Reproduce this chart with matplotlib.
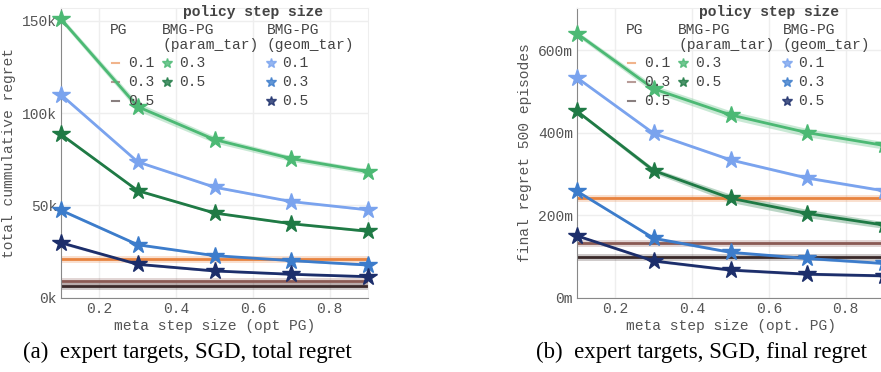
import matplotlib
matplotlib.use("Agg")
import matplotlib.pyplot as plt
import numpy as np

meta_step = [0.1, 0.3, 0.5, 0.7, 0.9]

# (a) total cumulative regret, in thousands
tot_param_03 = [151, 103.5, 85.7, 75.4, 68.3]
tot_param_05 = [88.5, 58.0, 45.9, 40.1, 36.0]
tot_geom_01 = [110, 73.6, 59.9, 52.1, 47.6]
tot_geom_03 = [47.4, 28.7, 22.8, 20.1, 17.7]
tot_geom_05 = [29.8, 18.1, 14.5, 12.7, 11.4]
tot_pg = [20.8, 9.2, 6.5]  # PG step 0.1, 0.3, 0.5
# band half-widths
tot_band_param_03 = [1.5, 2.2, 1.8, 1.5, 1.4]
tot_band_other = [0.8, 0.6, 0.5, 0.5, 0.5]

# (b) final regret after 500 episodes, in milli-units
fin_param_03 = [640, 506, 443, 400, 369]
fin_param_05 = [452, 308, 241, 204, 176]
fin_geom_01 = [533, 398, 334, 290, 259]
fin_geom_03 = [258, 144, 110, 95, 83]
fin_geom_05 = [150, 89, 67, 57, 53]
fin_pg = [242, 133, 98]
fin_band_param_03 = [6, 9, 10, 10, 9]
fin_band_param_05 = [4, 6, 10, 10, 8]
fin_band_other = [3, 3, 3, 3, 3]

c_param03 = "#4cb974"
c_param05 = "#1f7a45"
c_geom01 = "#7aa3ee"
c_geom03 = "#3c7ccb"
c_geom05 = "#1c2e6b"
c_pg = ["#e8833f", "#8a5a54", "#3b2a2a"]

mono = "Liberation Mono"
grey = "#555555"

fig = plt.figure(figsize=(8.81, 3.72), dpi=100)
ax1 = fig.add_axes([61 / 881, 74.3 / 372, 307 / 881, 289.7 / 372])
ax2 = fig.add_axes([577 / 881, 74.3 / 372, 307 / 881, 289.7 / 372])


def draw(ax, series, pg):
    for vals, band, col in series:
        v = np.array(vals)
        b = np.array(band)
        ax.fill_between(meta_step, v - b, v + b, color=col, alpha=0.3, lw=0, zorder=2)
        ax.plot(meta_step, v, color=col, lw=2, marker="*", ms=13, zorder=3,
                clip_on=False)
    for val, col in zip(pg, c_pg):
        ax.axhline(val, color=col, lw=5, alpha=0.25, zorder=2)
        ax.axhline(val, color=col, lw=2, zorder=2)


def style(ax, ticks, fmt, xlabel, ylabel, ylim):
    ax.set_xlim(0.1, 0.9)
    ax.set_ylim(*ylim)
    ax.set_xticks([0.2, 0.4, 0.6, 0.8])
    ax.set_xticklabels(["0.2", "0.4", "0.6", "0.8"])
    ax.set_yticks(ticks)
    ax.set_yticklabels([fmt % t for t in ticks])
    ax.grid(True, color="#eeeeee", lw=1, zorder=0)
    ax.set_axisbelow(True)
    for s in ["top", "right"]:
        ax.spines[s].set_color("#eeeeee")
    for s in ["left", "bottom"]:
        ax.spines[s].set_color("#888888")
    ax.tick_params(length=0, labelsize=10.5, colors=grey, pad=3)
    for lab in ax.get_xticklabels() + ax.get_yticklabels():
        lab.set_family(mono)
    ax.set_xlabel(xlabel, family=mono, fontsize=10.5, color=grey, labelpad=2)
    ax.set_ylabel(ylabel, family=mono, fontsize=10.5, color=grey, labelpad=4)


def legend(ax):
    tr = ax.transAxes
    kw = dict(family=mono, fontsize=10.5, color="#444444", transform=tr, va="center")
    ax.text(0.625, 0.985, "policy step size", fontweight="bold", ha="center", **kw)
    ax.text(0.16, 0.925, "PG", **kw)
    ax.text(0.33, 0.925, "BMG-PG", **kw)
    ax.text(0.33, 0.872, "(param_tar)", **kw)
    ax.text(0.67, 0.925, "BMG-PG", **kw)
    ax.text(0.67, 0.872, "(geom_tar)", **kw)
    rows = [0.81, 0.745, 0.68]
    for y, lab, col in zip(rows, ["0.1", "0.3", "0.5"], c_pg):
        ax.plot([0.165, 0.19], [y, y], color=col, lw=1.5, alpha=0.6,
                transform=tr, clip_on=False)
        ax.text(0.218, y, lab, **kw)
    for y, lab, col in zip(rows[:2], ["0.3", "0.5"], [c_param03, c_param05]):
        ax.plot([0.345], [y], marker="*", ms=7, color=col, alpha=0.8,
                transform=tr, clip_on=False, ls="none")
        ax.text(0.385, y, lab, **kw)
    for y, lab, col in zip(rows, ["0.1", "0.3", "0.5"], [c_geom01, c_geom03, c_geom05]):
        ax.plot([0.685], [y], marker="*", ms=7, color=col, alpha=0.8,
                transform=tr, clip_on=False, ls="none")
        ax.text(0.72, y, lab, **kw)


draw(ax1, [(tot_param_03, tot_band_param_03, c_param03),
           (tot_geom_01, tot_band_other, c_geom01),
           (tot_param_05, tot_band_other, c_param05),
           (tot_geom_03, tot_band_other, c_geom03),
           (tot_geom_05, tot_band_other, c_geom05)], tot_pg)
style(ax1, [0, 50, 100, 150], "%dk", "meta step size (opt PG)",
      "total cummulative regret", (0, 157))
legend(ax1)

draw(ax2, [(fin_param_03, fin_band_param_03, c_param03),
           (fin_geom_01, fin_band_other, c_geom01),
           (fin_param_05, fin_band_param_05, c_param05),
           (fin_geom_03, fin_band_other, c_geom03),
           (fin_geom_05, fin_band_other, c_geom05)], fin_pg)
style(ax2, [0, 200, 400, 600], "%dm", "meta step size (opt. PG)",
      "final regret 500 episodes", (0, 702))
legend(ax2)

fig.text(187 / 881, 1 - 352 / 372, "(a)  expert targets, SGD, total regret",
         family="Liberation Serif", fontsize=16.5, ha="center", va="center")
fig.text(702 / 881, 1 - 352 / 372, "(b)  expert targets, SGD, final regret",
         family="Liberation Serif", fontsize=16.5, ha="center", va="center")

fig.savefig("out.png", dpi=100)
